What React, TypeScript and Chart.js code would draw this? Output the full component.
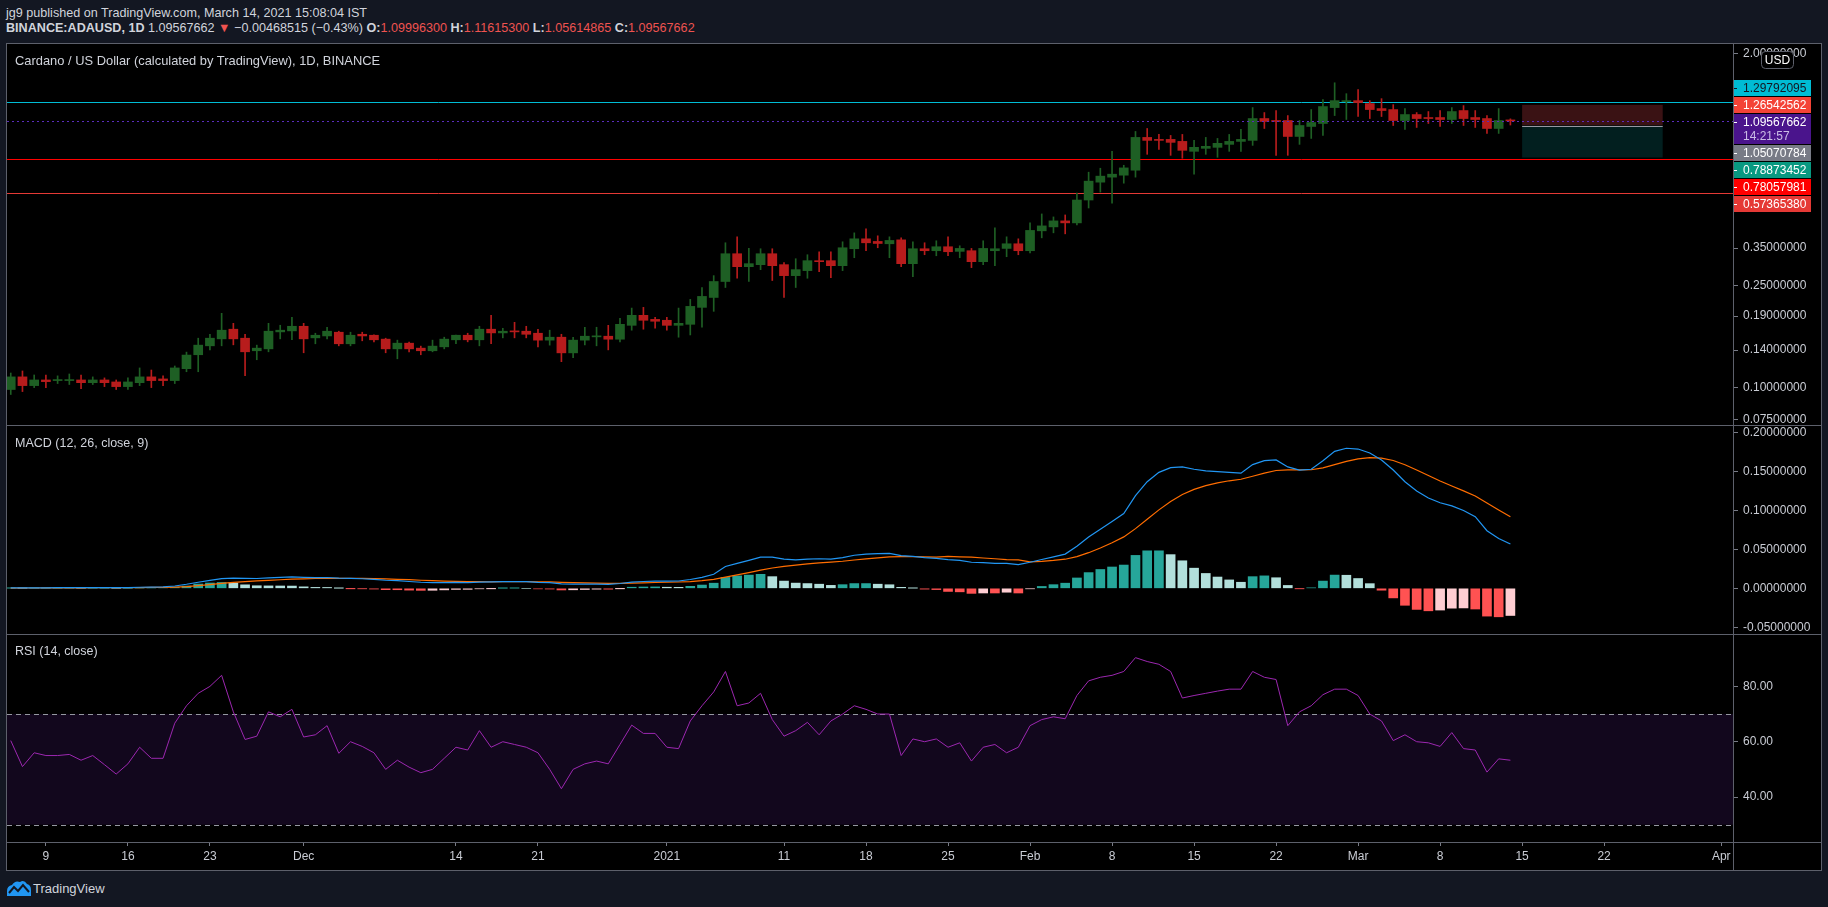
import React, { useEffect, useRef } from "react";
import { Chart, registerables } from "chart.js";
Chart.register(...registerables);

// Day numbers are counted from 2020-11-09 (day 0). First candle: 2020-11-06.
const firstCandleDay = -3;
const xMinDay = -3.32;
const xMaxDay = 144.0;

const opens = [
  0.0983, 0.1101, 0.1018, 0.1071, 0.1065, 0.1065, 0.1071, 0.1045, 0.1071, 0.1052,
  0.1009, 0.1045, 0.1101, 0.1081, 0.1065, 0.1185, 0.1343, 0.1455, 0.1549, 0.1689,
  0.1558, 0.1392, 0.1416, 0.1649, 0.1664, 0.1734, 0.1563, 0.159, 0.1644, 0.1482,
  0.1614, 0.16, 0.1545, 0.1416, 0.149, 0.1425, 0.1392, 0.1442, 0.1536, 0.16,
  0.1536, 0.1689, 0.1634, 0.1659, 0.1659, 0.1629, 0.1531, 0.1572, 0.1366, 0.1531,
  0.1577, 0.1586, 0.1544, 0.1749, 0.1913, 0.1845, 0.183, 0.1749, 0.1765, 0.2055,
  0.2246, 0.2592, 0.3326, 0.2961, 0.3015, 0.3326, 0.3015, 0.2732, 0.2858, 0.3125,
  0.3125, 0.2988, 0.3478, 0.3802, 0.3714, 0.3637, 0.3767, 0.3042, 0.3478, 0.3417,
  0.3541, 0.3397, 0.3417, 0.3097, 0.3417, 0.3488, 0.3637, 0.3417, 0.4085, 0.4232,
  0.4466, 0.4387, 0.5386, 0.6323, 0.6614, 0.6731, 0.7039, 0.9449, 0.9283, 0.9283,
  0.9117, 0.8339, 0.8565, 0.8643, 0.8877, 0.9117, 0.92, 1.1193, 1.0998, 1.0998,
  0.953, 1.0424, 1.0707, 1.2351, 1.3027, 1.3145, 1.28, 1.2239, 1.2133, 1.0998,
  1.1601, 1.1295, 1.1295, 1.1097, 1.2025, 1.1295, 1.1193, 1.0238, 1.099963
];
const highs = [
  0.114, 0.1161, 0.112, 0.112, 0.1111, 0.113, 0.112, 0.1101, 0.1091, 0.1071,
  0.1091, 0.1193, 0.1171, 0.1111, 0.1214, 0.1375, 0.1558, 0.1614, 0.1948, 0.1781,
  0.1614, 0.1464, 0.1781, 0.175, 0.1879, 0.1781, 0.1629, 0.1719, 0.1659, 0.1644,
  0.1644, 0.1605, 0.1558, 0.1531, 0.1504, 0.1451, 0.1531, 0.1572, 0.1602, 0.1629,
  0.1734, 0.1913, 0.1703, 0.1797, 0.1734, 0.1689, 0.1674, 0.1614, 0.1572, 0.1719,
  0.1719, 0.1749, 0.1862, 0.2042, 0.2055, 0.1879, 0.1879, 0.2042, 0.2207, 0.2456,
  0.2732, 0.367, 0.3871, 0.3488, 0.3478, 0.3478, 0.3069, 0.318, 0.3296, 0.3386,
  0.3386, 0.3702, 0.4011, 0.4156, 0.3906, 0.3871, 0.3836, 0.3702, 0.367, 0.3736,
  0.3871, 0.3572, 0.3488, 0.3736, 0.4194, 0.3871, 0.3802, 0.4387, 0.4754, 0.4628,
  0.4711, 0.5733, 0.6915, 0.7165, 0.8339, 0.7358, 0.9968, 1.0238, 0.9705, 0.9618,
  0.9705, 0.92, 0.9449, 0.9363, 0.9705, 1.015, 1.2351, 1.1811, 1.2025, 1.1496,
  1.0998, 1.2133, 1.3263, 1.5431, 1.3993, 1.4501, 1.3145, 1.3381, 1.2685, 1.2239,
  1.1811, 1.1917, 1.2025, 1.2351, 1.2571, 1.2025, 1.1496, 1.2239, 1.116153
];
const lows = [
  0.094, 0.0965, 0.1, 0.1, 0.1037, 0.1028, 0.0991, 0.1028, 0.1009, 0.0983,
  0.0983, 0.1018, 0.1, 0.1018, 0.1037, 0.1153, 0.1153, 0.1404, 0.1455, 0.1468,
  0.1114, 0.1284, 0.1379, 0.1549, 0.1536, 0.1367, 0.1482, 0.1549, 0.1455, 0.1455,
  0.1522, 0.1508, 0.1367, 0.1295, 0.1379, 0.1343, 0.1379, 0.1416, 0.1482, 0.1508,
  0.1455, 0.1482, 0.1563, 0.1563, 0.1563, 0.1442, 0.1464, 0.1262, 0.1307, 0.1468,
  0.1455, 0.1403, 0.1508, 0.1674, 0.1689, 0.1703, 0.1674, 0.1572, 0.1604, 0.1719,
  0.1983, 0.2456, 0.2669, 0.2592, 0.2883, 0.2615, 0.2246, 0.2456, 0.2669, 0.2832,
  0.2685, 0.2858, 0.3209, 0.3417, 0.3509, 0.3209, 0.2961, 0.2707, 0.3296, 0.3266,
  0.3266, 0.3209, 0.2936, 0.3015, 0.2988, 0.3238, 0.3296, 0.335, 0.3836, 0.4012,
  0.3976, 0.4308, 0.5014, 0.5784, 0.5241, 0.6265, 0.6614, 0.8119, 0.8487, 0.8045,
  0.7834, 0.6792, 0.8119, 0.7905, 0.8339, 0.8339, 0.8797, 1.0238, 0.8045, 0.8045,
  0.8877, 0.9363, 0.9618, 1.1496, 1.1097, 1.1397, 1.1193, 1.1397, 1.0515, 1.015,
  1.0331, 1.0707, 1.0424, 1.0707, 1.0515, 1.0331, 0.9793, 0.9793, 1.05614865
];
const closes = [
  0.1101, 0.1018, 0.1071, 0.1055, 0.1071, 0.1071, 0.1045, 0.1071, 0.1045, 0.1009,
  0.1052, 0.1101, 0.1065, 0.1065, 0.1193, 0.1339, 0.1464, 0.1558, 0.1674, 0.1549,
  0.1379, 0.1425, 0.1659, 0.1674, 0.1734, 0.1549, 0.16, 0.1659, 0.1482, 0.16,
  0.159, 0.1536, 0.1416, 0.149, 0.1416, 0.1392, 0.1451, 0.1545, 0.16, 0.1536,
  0.1689, 0.1634, 0.1659, 0.1649, 0.1614, 0.1531, 0.1572, 0.1366, 0.1531, 0.1586,
  0.1591, 0.1544, 0.1765, 0.1913, 0.183, 0.1814, 0.1749, 0.1781, 0.2073, 0.2267,
  0.2592, 0.3326, 0.2961, 0.3042, 0.3326, 0.2988, 0.2732, 0.2883, 0.3125, 0.3097,
  0.2988, 0.3509, 0.3802, 0.3669, 0.3646, 0.3747, 0.3042, 0.3478, 0.3417, 0.3541,
  0.3386, 0.3488, 0.3097, 0.3488, 0.3478, 0.3637, 0.3417, 0.41, 0.427, 0.4466,
  0.4387, 0.5386, 0.6381, 0.6674, 0.6792, 0.7187, 0.9449, 0.92, 0.92, 0.9038,
  0.8415, 0.8643, 0.8721, 0.8958, 0.9117, 0.9283, 1.1193, 1.0899, 1.0899, 0.953,
  1.0515, 1.08, 1.2462, 1.3145, 1.3145, 1.2915, 1.2133, 1.2025, 1.0998, 1.1601,
  1.1193, 1.1193, 1.1097, 1.1917, 1.1193, 1.1097, 1.0238, 1.0998, 1.09567662
];

const macdLine = [
  0.0005, 0.0005, 0.0006, 0.0007, 0.0008, 0.0009, 0.0009, 0.001, 0.001, 0.0009,
  0.001, 0.0014, 0.0016, 0.0018, 0.003, 0.0052, 0.0078, 0.0102, 0.0125, 0.0132,
  0.0128, 0.0126, 0.0134, 0.014, 0.0147, 0.0141, 0.0138, 0.0139, 0.013, 0.0127,
  0.0123, 0.0116, 0.0104, 0.0098, 0.0088, 0.0078, 0.0073, 0.0073, 0.0076, 0.0073,
  0.008, 0.0083, 0.0086, 0.0087, 0.0085, 0.0077, 0.0073, 0.0056, 0.0053, 0.0054,
  0.0055, 0.0052, 0.0062, 0.008, 0.0088, 0.0093, 0.0092, 0.0094, 0.0113, 0.014,
  0.018, 0.028, 0.032, 0.036, 0.04, 0.04, 0.0375, 0.0365, 0.0375, 0.038,
  0.0375, 0.0395, 0.0425, 0.044, 0.0445, 0.045, 0.042, 0.041, 0.0395, 0.0385,
  0.037, 0.036, 0.0335, 0.033, 0.032, 0.032, 0.0305, 0.0335, 0.037, 0.0405,
  0.044, 0.054, 0.066, 0.076, 0.086, 0.096, 0.119, 0.137, 0.149, 0.155,
  0.156, 0.153, 0.151, 0.15, 0.149, 0.148, 0.159, 0.164, 0.165, 0.156,
  0.152, 0.153, 0.164, 0.176, 0.18, 0.179, 0.174, 0.165, 0.152, 0.137,
  0.125, 0.116, 0.11, 0.106, 0.1, 0.092, 0.074, 0.064, 0.057
];
const signalLine = [
  0.0003, 0.0004, 0.0004, 0.0005, 0.0006, 0.0006, 0.0007, 0.0008, 0.0008, 0.0008,
  0.0009, 0.001, 0.0011, 0.0012, 0.0016, 0.0023, 0.0034, 0.0048, 0.0063, 0.0077,
  0.0087, 0.0095, 0.0103, 0.011, 0.0118, 0.0122, 0.0126, 0.0128, 0.0129, 0.0128,
  0.0127, 0.0125, 0.0121, 0.0116, 0.0111, 0.0104, 0.0098, 0.0093, 0.009, 0.0086,
  0.0085, 0.0084, 0.0085, 0.0085, 0.0085, 0.0084, 0.0082, 0.0077, 0.0072, 0.0069,
  0.0066, 0.0063, 0.0063, 0.0066, 0.0071, 0.0075, 0.0078, 0.0081, 0.0087, 0.0098,
  0.0114, 0.0143, 0.0172, 0.0202, 0.0233, 0.0261, 0.0282, 0.0298, 0.0314, 0.0327,
  0.0337, 0.0348, 0.0364, 0.0379, 0.0392, 0.0404, 0.0407, 0.0408, 0.0405, 0.0401,
  0.041, 0.0405, 0.04, 0.039, 0.038, 0.037, 0.0365, 0.034, 0.0346, 0.0358,
  0.0374, 0.0407, 0.0458, 0.0518, 0.0586, 0.0661, 0.0767, 0.0888, 0.1008, 0.1117,
  0.1206, 0.1271, 0.1319, 0.1355, 0.1382, 0.1402, 0.144, 0.148, 0.1514, 0.1523,
  0.1523, 0.1524, 0.1547, 0.159, 0.1632, 0.1664, 0.168, 0.1674, 0.1643, 0.1588,
  0.1521, 0.1449, 0.1379, 0.1315, 0.1252, 0.1186, 0.1097, 0.1006, 0.0919
];
const macdHistogram = [
  0.0002, 0.0001, 0.0002, 0.0002, 0.0002, 0.0003, 0.0002, 0.0002, 0.0002, 0.0001,
  0.0001, 0.0004, 0.0005, 0.0006, 0.0014, 0.0029, 0.0055, 0.0068, 0.0075, 0.0068,
  0.0045, 0.0033, 0.0031, 0.003, 0.0029, 0.0019, 0.0012, 0.0011, 0.0001, -0.0001,
  -0.0004, -0.0009, -0.0017, -0.0018, -0.0023, -0.0026, -0.0025, -0.002, -0.0014, -0.0013,
  -0.0005, -0.0001, 0.0001, 0.0002, 0.0, -0.0007, -0.0009, -0.0021, -0.0019, -0.0015,
  -0.0011, -0.0011, -0.0001, 0.0014, 0.0017, 0.0018, 0.0014, 0.0013, 0.0026, 0.0042,
  0.0066, 0.014, 0.016, 0.017, 0.018, 0.015, 0.0093, 0.0067, 0.0061, 0.0053,
  0.0038, 0.0047, 0.0061, 0.0061, 0.0053, 0.0046, 0.0013, 0.0002, -0.001, -0.0016,
  -0.004, -0.0045, -0.0065, -0.006, -0.006, -0.005, -0.006, -0.0005, 0.0024, 0.0047,
  0.0066, 0.0133, 0.0202, 0.0242, 0.0274, 0.0299, 0.0423, 0.0482, 0.0482, 0.0433,
  0.0354, 0.0259, 0.0191, 0.0145, 0.0108, 0.0078, 0.015, 0.016, 0.0136, 0.0037,
  -0.0003, 0.0006, 0.0093, 0.017, 0.0168, 0.0126, 0.006, -0.0024, -0.0123, -0.0218,
  -0.0271, -0.0289, -0.0279, -0.0255, -0.0252, -0.0266, -0.0357, -0.0366, -0.0349
];
// RSI (14, close)
const rsiValues = [
  60.4, 51, 56, 55, 55, 55.4, 53.3, 55, 51.7, 48.3,
  52, 58, 54, 54, 66.7, 73, 77.5, 80, 84, 70.8,
  60.8, 62, 70.8, 69, 71.7, 61.7, 62.5, 65.8, 55.8, 60,
  58.3, 56, 50, 53.3, 50.8, 48.8, 50, 54, 58, 57,
  64, 58, 60, 59, 58, 56, 50, 43, 50, 52,
  53, 52, 59, 66, 63, 63, 58, 57.5, 67.5, 73,
  78, 85.4, 73, 74, 77.5, 68, 62, 64, 67, 62.5,
  67.5, 70, 73, 71.7, 70, 70, 55, 61, 60, 61,
  58, 59.6, 53, 58, 59, 56, 58, 65.8, 68, 69,
  68.3, 76.7, 82, 83.3, 84, 85.4, 90.4, 89, 88, 85.4,
  75.8, 76.7, 77.5, 78.3, 79, 79, 85.4, 83.3, 82.5, 65.8,
  70.8, 73, 77, 79, 79, 76.7, 70, 67.5, 60.4, 62.5,
  60, 59.6, 58.3, 63.3, 57.5, 57, 49, 53.8, 53.3
];

const xTickDays = [0, 7, 14, 22, 35, 42, 53, 63, 70, 77, 84, 91, 98, 105, 112, 119, 126, 133, 143];
const xTickLabels = ["9", "16", "23", "Dec", "14", "21", "2021", "11", "18", "25", "Feb", "8", "15", "22", "Mar", "8", "15", "22", "Apr"];

const priceTicks = [0.075, 0.1, 0.14, 0.19, 0.25, 0.35, 0.5, 0.7, 1.0, 1.5, 2.0];
const macdTicks = [-0.05, 0, 0.05, 0.1, 0.15, 0.2];
const rsiTicks = [40, 60, 80];

const levelValues = [1.29792095, 0.78057981, 0.5736538];
const levelColors = ["#00bcd4", "#ff0000", "#e53935"];
const lastPrice = 1.09567662;

const positionDays = [126, 138];
const positionStop = 1.26542562;
const positionEntry = 1.05070784;
const positionTarget = 0.78873452;

const badgeValues = [1.29792095, 1.26542562, 1.09567662, 1.05070784, 0.78873452, 0.78057981, 0.5736538];
const badgeTexts = ["1.29792095", "1.26542562", "1.09567662", "1.05070784", "0.78873452", "0.78057981", "0.57365380"];
const badgeSubTexts = ["", "", "14:21:57", "", "", "", ""];
const badgeBg = ["#00bcd4", "#f44336", "#4a148c", "#787b86", "#089981", "#ff0000", "#e53935"];
const badgeFg = ["#131722", "#ffffff", "#ffffff", "#ffffff", "#ffffff", "#ffffff", "#ffffff"];
const badgeAnchor = 1;

const rsiUpper = 70;
const rsiLower = 30;

const UP = "#1e5f24";
const DOWN = "#b71c1c";
const AXIS_TEXT = "#c9ccd4";
const LINE_GRAY = "#5d606b";
const FONT = '"Liberation Sans", Arial, sans-serif';

const AXIS_W = 88;

function dayOf(i: number) {
  return firstCandleDay + i;
}

function xScale(display: boolean): any {
  return {
    type: "linear",
    min: xMinDay,
    max: xMaxDay,
    offset: false,
    display,
    afterFit: (s: any) => {
      if (display) s.height = 28;
      s.paddingLeft = 0;
      s.paddingRight = 0;
    },
    afterBuildTicks: (s: any) => {
      s.ticks = xTickDays.map((d) => ({ value: d }));
    },
    grid: { drawOnChartArea: false, drawTicks: true, tickLength: 4, color: "#787b86" },
    border: { display: false },
    ticks: {
      autoSkip: false,
      maxRotation: 0,
      minRotation: 0,
      padding: 3,
      color: AXIS_TEXT,
      font: { family: FONT, size: 12 },
      callback: (_v: any, idx: number) => xTickLabels[idx],
    },
  };
}

function yScale(type: string, min: number, max: number, ticks: number[], digits: number): any {
  return {
    type,
    position: "right",
    min,
    max,
    afterFit: (s: any) => {
      s.width = AXIS_W;
      s.paddingTop = 0;
      s.paddingBottom = 0;
    },
    afterBuildTicks: (s: any) => {
      s.ticks = ticks.map((v) => ({ value: v }));
    },
    grid: { drawOnChartArea: false, drawTicks: true, tickLength: 5, color: "#787b86" },
    border: { display: false },
    ticks: {
      autoSkip: false,
      padding: 5,
      color: AXIS_TEXT,
      font: { family: FONT, size: 12 },
      callback: (v: any) => Number(v).toFixed(digits),
    },
  };
}

function hline(ctx: CanvasRenderingContext2D, x0: number, x1: number, y: number, color: string, w = 1, dash: number[] = []) {
  const py = Math.round(y) + 0.5;
  ctx.save();
  ctx.strokeStyle = color;
  ctx.lineWidth = w;
  ctx.setLineDash(dash);
  ctx.beginPath();
  ctx.moveTo(x0, py);
  ctx.lineTo(x1, py);
  ctx.stroke();
  ctx.restore();
}

const pricePlugin = {
  id: "pricePane",
  beforeDatasetsDraw(chart: any) {
    const { ctx, chartArea: a, scales } = chart;
    const x = scales.x;
    const y = scales.y;
    ctx.save();
    ctx.beginPath();
    ctx.rect(a.left, a.top, a.right - a.left, a.bottom - a.top);
    ctx.clip();
    const x0 = x.getPixelForValue(positionDays[0]);
    const x1 = x.getPixelForValue(positionDays[1]);
    const ys = y.getPixelForValue(positionStop);
    const ye = y.getPixelForValue(positionEntry);
    const yt = y.getPixelForValue(positionTarget);
    ctx.fillStyle = "#3a1214";
    ctx.fillRect(x0, ys, x1 - x0, ye - ys);
    ctx.fillStyle = "#021f1f";
    ctx.fillRect(x0, ye, x1 - x0, yt - ye);
    hline(ctx, x0, x1, ye, "#9598a1", 1);
    levelValues.forEach((v, i) => {
      hline(ctx, a.left, a.right, y.getPixelForValue(v), levelColors[i], 1);
    });
    ctx.restore();
  },
  afterDatasetsDraw(chart: any) {
    const { ctx, chartArea: a, scales } = chart;
    hline(ctx, a.left, a.right, scales.y.getPixelForValue(lastPrice), "#5b2bbf", 1, [2, 3]);
  },
  afterDraw(chart: any) {
    const { ctx, chartArea: a, scales } = chart;
    const y = scales.y;
    const heights = badgeValues.map((_, i) => (badgeSubTexts[i] ? 30 : 16));
    const tops: number[] = new Array(badgeValues.length);
    tops[badgeAnchor] = y.getPixelForValue(badgeValues[badgeAnchor]) - 8;
    for (let j = badgeAnchor - 1; j >= 0; j--) tops[j] = tops[j + 1] - 1 - heights[j];
    for (let j = badgeAnchor + 1; j < badgeValues.length; j++) tops[j] = tops[j - 1] + heights[j - 1] + 1;
    ctx.save();
    ctx.font = `12px ${FONT}`;
    ctx.textBaseline = "middle";
    ctx.textAlign = "left";
    badgeValues.forEach((_, i) => {
      const t = Math.round(tops[i]);
      ctx.fillStyle = badgeBg[i];
      ctx.fillRect(a.right, t, 78, heights[i]);
      ctx.fillStyle = badgeFg[i];
      ctx.fillRect(a.right, t + 8, 4, 1);
      ctx.fillText(badgeTexts[i], a.right + 10, t + 8.5);
      if (badgeSubTexts[i]) {
        ctx.fillStyle = "#cbbde6";
        ctx.fillText(badgeSubTexts[i], a.right + 10, t + 22.5);
      }
    });
    // currency pill
    const px = a.right + 28;
    const py = 7;
    ctx.fillStyle = "#000000";
    ctx.strokeStyle = "#5d606b";
    ctx.lineWidth = 1;
    ctx.beginPath();
    (ctx as any).roundRect(px + 0.5, py + 0.5, 32, 17, 4);
    ctx.fill();
    ctx.stroke();
    ctx.fillStyle = "#ffffff";
    ctx.textAlign = "center";
    ctx.fillText("USD", px + 16.5, py + 9.5);
    ctx.restore();
  },
};

const rsiPlugin = {
  id: "rsiPane",
  beforeDatasetsDraw(chart: any) {
    const { ctx, chartArea: a, scales } = chart;
    const y = scales.y;
    const yu = y.getPixelForValue(rsiUpper);
    const yl = y.getPixelForValue(rsiLower);
    ctx.save();
    ctx.fillStyle = "#12071d";
    ctx.fillRect(a.left, yu, a.right - a.left, yl - yu);
    ctx.restore();
    hline(ctx, a.left, a.right, yu, "#9598a1", 1, [5, 4]);
    hline(ctx, a.left, a.right, yl, "#9598a1", 1, [5, 4]);
  },
};

function histColors(vals: number[]) {
  return vals.map((v, i) => {
    const prev = i > 0 ? vals[i - 1] : v;
    if (v >= 0) return v >= prev ? "#26a69a" : "#b2dfdb";
    return v <= prev ? "#ff5252" : "#ffcdd2";
  });
}

const commonOptions: any = {
  animation: false,
  responsive: false,
  maintainAspectRatio: false,
  devicePixelRatio: 1,
  events: [],
  layout: { padding: 0 },
  plugins: { legend: { display: false }, tooltip: { enabled: false } },
};

export default function App() {
  const priceRef = useRef<HTMLCanvasElement>(null);
  const macdRef = useRef<HTMLCanvasElement>(null);
  const rsiRef = useRef<HTMLCanvasElement>(null);

  useEffect(() => {
    const candleColors = closes.map((c, i) => (c >= opens[i] ? UP : DOWN));
    const price = new Chart(priceRef.current as HTMLCanvasElement, {
      type: "bar",
      data: {
        datasets: [
          {
            type: "bar",
            data: opens.map((o, i) => ({ x: dayOf(i), y: [Math.min(o, closes[i]), Math.max(o, closes[i])] })) as any,
            backgroundColor: candleColors,
            barThickness: 9,
            grouped: false,
            minBarLength: 1,
            order: 0,
          } as any,
          {
            type: "bar",
            data: opens.map((_, i) => ({ x: dayOf(i), y: [lows[i], highs[i]] })) as any,
            backgroundColor: candleColors,
            barThickness: 1,
            grouped: false,
            order: 1,
          } as any,
        ],
      },
      options: {
        ...commonOptions,
        scales: {
          x: xScale(false),
          y: yScale("logarithmic", 0.07148, 2.1855, priceTicks, 8),
        },
      },
      plugins: [pricePlugin],
    });

    const macd = new Chart(macdRef.current as HTMLCanvasElement, {
      type: "bar",
      data: {
        datasets: [
          {
            type: "line",
            data: macdLine.map((v, i) => ({ x: dayOf(i), y: v })) as any,
            borderColor: "#2196f3",
            borderWidth: 1.2,
            pointRadius: 0,
            order: 0,
          } as any,
          {
            type: "line",
            data: signalLine.map((v, i) => ({ x: dayOf(i), y: v })) as any,
            borderColor: "#ff6d00",
            borderWidth: 1.2,
            pointRadius: 0,
            order: 1,
          } as any,
          {
            type: "bar",
            data: macdHistogram.map((v, i) => ({ x: dayOf(i), y: v })) as any,
            backgroundColor: histColors(macdHistogram),
            barThickness: 9,
            grouped: false,
            order: 2,
          } as any,
        ],
      },
      options: {
        ...commonOptions,
        scales: {
          x: xScale(false),
          y: yScale("linear", -0.0587, 0.2086, macdTicks, 8),
        },
      },
    });

    const rsi = new Chart(rsiRef.current as HTMLCanvasElement, {
      type: "line",
      data: {
        datasets: [
          {
            data: rsiValues.map((v, i) => ({ x: dayOf(i), y: v })) as any,
            borderColor: "#9c27b0",
            borderWidth: 1,
            pointRadius: 0,
          } as any,
        ],
      },
      options: {
        ...commonOptions,
        scales: {
          x: xScale(true),
          y: yScale("linear", 23.73, 98.59, rsiTicks, 2),
        },
      },
      plugins: [rsiPlugin],
    });

    return () => {
      price.destroy();
      macd.destroy();
      rsi.destroy();
    };
  }, []);

  const red = "#ef5350";
  const txt = "#d1d4dc";
  return (
    <div
      style={{
        position: "absolute",
        left: 0,
        top: 0,
        width: 1828,
        height: 907,
        background: "#131722",
        overflow: "hidden",
        fontFamily: FONT,
        color: txt,
      }}
    >
      <div style={{ position: "absolute", left: 6, top: 5, fontSize: 12.6, lineHeight: "16px", whiteSpace: "nowrap" }}>
        jg9 published on TradingView.com, March 14, 2021 15:08:04 IST
      </div>
      <div style={{ position: "absolute", left: 6, top: 20, fontSize: 12.6, lineHeight: "16px", whiteSpace: "nowrap" }}>
        <b>BINANCE:ADAUSD, 1D</b> 1.09567662 <span style={{ color: red }}>▼</span> −0.00468515 (−0.43%){" "}
        <b>O:</b>
        <span style={{ color: red }}>1.09996300</span> <b>H:</b>
        <span style={{ color: red }}>1.11615300</span> <b>L:</b>
        <span style={{ color: red }}>1.05614865</span> <b>C:</b>
        <span style={{ color: red }}>1.09567662</span>
      </div>

      <div
        style={{
          position: "absolute",
          left: 6,
          top: 43,
          width: 1814,
          height: 826,
          border: `1px solid ${LINE_GRAY}`,
          background: "#000000",
        }}
      >
        <canvas ref={priceRef} width={1814} height={381} style={{ position: "absolute", left: 0, top: 0, width: 1814, height: 381 }} />
        <canvas ref={macdRef} width={1814} height={208} style={{ position: "absolute", left: 0, top: 382, width: 1814, height: 208 }} />
        <canvas ref={rsiRef} width={1814} height={235} style={{ position: "absolute", left: 0, top: 591, width: 1814, height: 235 }} />
        <div style={{ position: "absolute", left: 0, top: 381, width: 1814, height: 1, background: LINE_GRAY }} />
        <div style={{ position: "absolute", left: 0, top: 590, width: 1814, height: 1, background: LINE_GRAY }} />
        <div style={{ position: "absolute", left: 0, top: 798, width: 1814, height: 1, background: LINE_GRAY }} />
        <div style={{ position: "absolute", left: 1726, top: 0, width: 1, height: 826, background: LINE_GRAY }} />
        <div style={{ position: "absolute", left: 8, top: 9, fontSize: 12.9, lineHeight: "16px", whiteSpace: "nowrap" }}>
          Cardano / US Dollar (calculated by TradingView), 1D, BINANCE
        </div>
        <div style={{ position: "absolute", left: 8, top: 391, fontSize: 12.5, lineHeight: "16px", whiteSpace: "nowrap" }}>
          MACD (12, 26, close, 9)
        </div>
        <div style={{ position: "absolute", left: 8, top: 599, fontSize: 12.5, lineHeight: "16px", whiteSpace: "nowrap" }}>
          RSI (14, close)
        </div>
      </div>

      <svg style={{ position: "absolute", left: 6, top: 880 }} width={26} height={17} viewBox="0 0 26 17">
        <path d="M1 16 L1 11 Q1 6 6 5 Q9 0 14 2 Q18 -1 21 4 Q25 5 25 10 L25 16 Z" fill="#2196f3" />
        <path d="M3 13 L8 7 L12 11 L17 5 L23 12" stroke="#131722" strokeWidth={2} fill="none" />
      </svg>
      <div style={{ position: "absolute", left: 33, top: 881, fontSize: 13, lineHeight: "16px", color: "#d1d4dc" }}>
        TradingView
      </div>
    </div>
  );
}
